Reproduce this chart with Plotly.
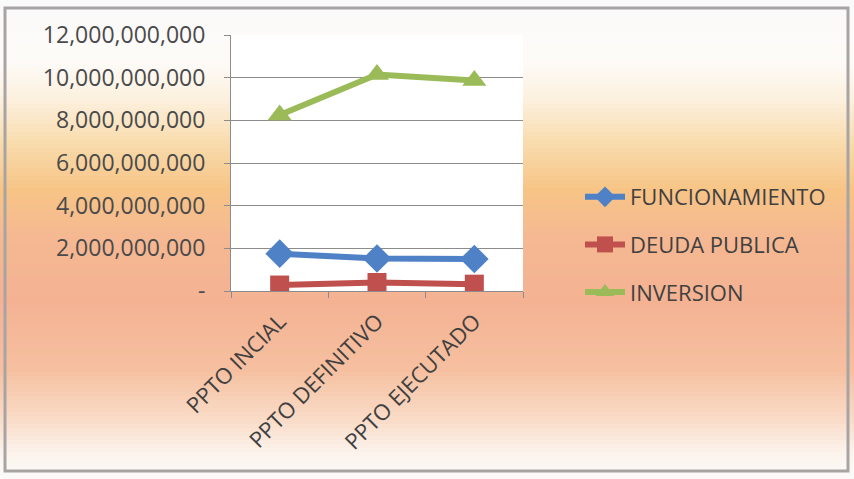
import plotly.graph_objects as go

# categorias y valores (pesos)
categorias = ['PPTO INCIAL', 'PPTO DEFINITIVO', 'PPTO EJECUTADO']
funcionamiento = [1750000000, 1520000000, 1500000000]
deuda_publica = [280000000, 400000000, 320000000]
inversion = [8250000000, 10150000000, 9870000000]

tick_vals = [0, 2000000000, 4000000000, 6000000000, 8000000000, 10000000000, 12000000000]
tick_text = ['-', '2,000,000,000', '4,000,000,000', '6,000,000,000',
             '8,000,000,000', '10,000,000,000', '12,000,000,000']

W, H = 854, 479
left, right, top, bottom = 231, 523, 35, 291

fig = go.Figure()
fig.add_trace(go.Scatter(x=categorias, y=funcionamiento, name='FUNCIONAMIENTO', mode='lines+markers',
                         line=dict(color='#4f81c7', width=6), legendgroup='a',
                         marker=dict(symbol='diamond', size=22, color='#4f81c7')))
fig.add_trace(go.Scatter(x=categorias, y=deuda_publica, name='DEUDA PUBLICA', mode='lines+markers',
                         line=dict(color='#c0504d', width=6), legendgroup='b',
                         marker=dict(symbol='square', size=19, color='#c0504d')))
fig.add_trace(go.Scatter(x=categorias, y=inversion, name='INVERSION', mode='lines+markers',
                         line=dict(color='#9bbb59', width=6), legendgroup='c',
                         marker=dict(symbol='triangle-up', size=21, color='#9bbb59')))

# fondo degradado (bandas horizontales)
stops = [(0, (251, 250, 250)), (60, (253, 251, 248)), (100, (252, 240, 222)),
         (140, (249, 221, 176)), (190, (247, 196, 134)), (240, (245, 184, 146)),
         (300, (244, 178, 147)), (370, (246, 192, 160)), (420, (249, 220, 200)),
         (455, (252, 244, 238)), (479, (251, 250, 249))]

def color_at(py):
    for (y0, c0), (y1, c1) in zip(stops[:-1], stops[1:]):
        if y0 <= py <= y1:
            t = (py - y0) / (y1 - y0)
            c = [round(a + (b - a) * t) for a, b in zip(c0, c1)]
            return 'rgb(%d,%d,%d)' % tuple(c)
    return 'rgb(251,250,250)'

def py2paper(py):
    return (bottom - py) / (bottom - top)

def px2paper(px):
    return (px - left) / (right - left)

shapes = []
step = 4
for py in range(0, H, step):
    shapes.append(dict(type='rect', xref='paper', yref='paper', layer='below',
                       x0=px2paper(0), x1=px2paper(W), y0=py2paper(py + step + 1), y1=py2paper(py),
                       fillcolor=color_at(py + step / 2), line=dict(width=0)))
# marco
shapes.append(dict(type='rect', xref='paper', yref='paper', layer='above',
                   x0=px2paper(5), x1=px2paper(848), y0=py2paper(471), y1=py2paper(8),
                   fillcolor='rgba(0,0,0,0)', line=dict(color='#a8a4a4', width=3)))
# area de trazado blanca
shapes.append(dict(type='rect', xref='x domain', yref='y domain', layer='below',
                   x0=0, x1=1, y0=0, y1=1, fillcolor='white', line=dict(width=0)))

fig.update_layout(
    width=W, height=H,
    margin=dict(l=left, r=W - right, t=top, b=H - bottom),
    paper_bgcolor='white', plot_bgcolor='white',
    font=dict(family='Open Sans, Lato, sans-serif', color='#4a4a4a', size=23),
    shapes=shapes,
    showlegend=True,
    legend=dict(x=px2paper(580), y=py2paper(176), xanchor='left', yanchor='top',
                bgcolor='rgba(0,0,0,0)', tracegroupgap=16, traceorder='grouped',
                font=dict(size=22, color='#404040'), itemwidth=40),
    xaxis=dict(type='category', showgrid=False, showline=True, linecolor='#8c8c8c', linewidth=1,
               ticks='outside', ticklen=6, tickcolor='#8c8c8c', tickson='boundaries',
               ticklabelstandoff=8,
               tickangle=-45, tickfont=dict(size=22, color='#404040'), range=[-0.5, 2.5]),
    yaxis=dict(range=[0, 12000000000], tickvals=tick_vals, ticktext=tick_text,
               showgrid=True, gridcolor='#8c8c8c', gridwidth=1, showline=True,
               linecolor='#8c8c8c', ticks='outside', ticklen=6, tickcolor='#8c8c8c',
               ticklabelstandoff=14,
               tickfont=dict(size=23, color='#4a4a4a'), zeroline=False),
)

fig.write_html('out.html', config={'displayModeBar': False},
               post_script="document.body.style.margin='0';")
